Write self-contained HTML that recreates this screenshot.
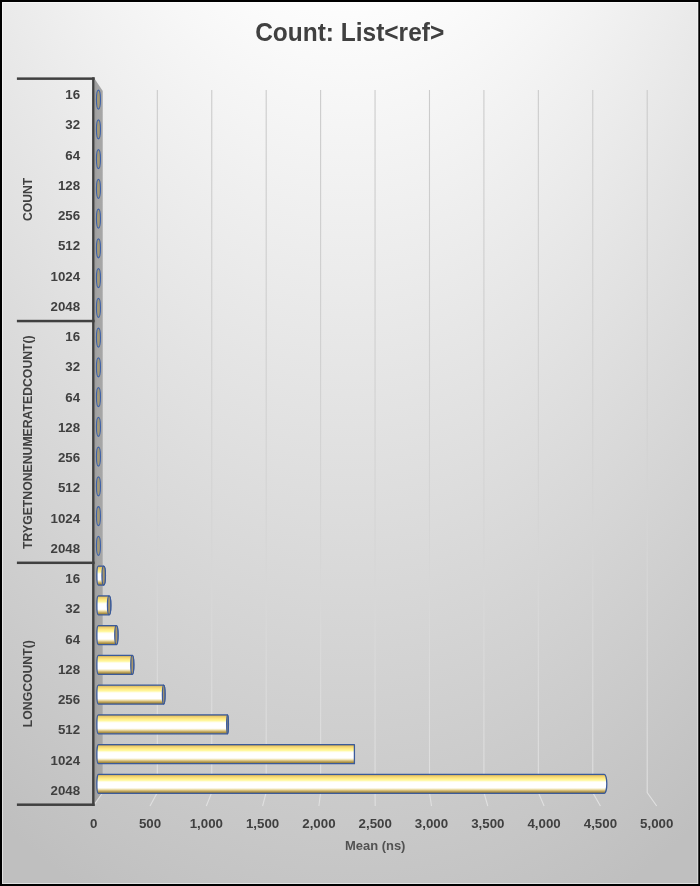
<!DOCTYPE html>
<html><head><meta charset="utf-8"><title>Count: List&lt;ref&gt;</title>
<style>
html,body{margin:0;padding:0;background:#c8c8c8;}
body{width:700px;height:886px;overflow:hidden;}
svg{display:block;}
text{font-family:"Liberation Sans",sans-serif;font-weight:bold;}
</style></head><body>
<svg width="700" height="886" viewBox="0 0 700 886">
<defs>
<radialGradient id="bg" gradientUnits="userSpaceOnUse" cx="0" cy="0" r="1" gradientTransform="translate(350 -683) scale(820 1664)">
<stop offset="0" stop-color="#ffffff"/><stop offset="0.39" stop-color="#ffffff"/><stop offset="1" stop-color="#bfbfbf"/></radialGradient>
<linearGradient id="cyl" x1="0" y1="0" x2="0" y2="1">
<stop offset="0" stop-color="#b08e48"/>
<stop offset="0.08" stop-color="#ebcc6c"/>
<stop offset="0.20" stop-color="#ffe782"/>
<stop offset="0.31" stop-color="#fff8a0"/>
<stop offset="0.38" stop-color="#fffde8"/>
<stop offset="0.43" stop-color="#ffffff"/>
<stop offset="0.71" stop-color="#ffffff"/>
<stop offset="0.78" stop-color="#f2e8c0"/>
<stop offset="0.86" stop-color="#d2b870"/>
<stop offset="0.94" stop-color="#a48c44"/>
<stop offset="1" stop-color="#8c7434"/>
</linearGradient>
<linearGradient id="grid" gradientUnits="userSpaceOnUse" x1="0" y1="90" x2="0" y2="806">
<stop offset="0" stop-color="#cbcbcb"/><stop offset="0.33" stop-color="#cfcfcf"/><stop offset="0.66" stop-color="#d6d6d6"/><stop offset="1" stop-color="#e0e0e0"/>
</linearGradient>
<linearGradient id="wall" x1="0" y1="0" x2="1" y2="0">
<stop offset="0" stop-color="#9c9c9c"/><stop offset="0.35" stop-color="#a4a4a4"/><stop offset="0.9" stop-color="#a6a6a6"/><stop offset="1" stop-color="#b0b0b0"/>
</linearGradient>
</defs>
<rect x="0" y="0" width="700" height="886" fill="url(#bg)"/>
<path d="M157.33 90V792.5L150 806M211.76 90V792.5L206.3 806M266.19 90V792.5L262.6 806M320.62 90V792.5L318.9 806M375.05 90V792.5L375.2 806M429.48 90V792.5L431.5 806M483.91 90V792.5L487.8 806M538.34 90V792.5L544.1 806M592.77 90V792.5L600.4 806M647.2 90V792.5L656.7 806" fill="none" stroke="url(#grid)" stroke-width="1.1"/>
<polygon points="94.6,78.8 102.8,91 102.8,792.5 94.6,803.6" fill="url(#wall)"/>
<path d="M102.9 792.3L94.8 803.9" fill="none" stroke="#dedede" stroke-width="1.1"/>
<rect x="92.1" y="77.3" width="2.5" height="728.7" fill="#404040"/>
<rect x="16.9" y="77.4" width="77.7" height="2.5" fill="#404040"/>
<rect x="16.9" y="319.8" width="77.7" height="2.5" fill="#404040"/>
<rect x="16.9" y="561.55" width="77.7" height="2.5" fill="#404040"/>
<rect x="16.9" y="803.45" width="77.7" height="2.5" fill="#404040"/>
<ellipse cx="98.45" cy="99.6" rx="2.0" ry="9.5" fill="#a39876" stroke="#3a5fa8" stroke-width="1.1"/>
<ellipse cx="98.45" cy="129.35" rx="2.0" ry="9.5" fill="#a39876" stroke="#3a5fa8" stroke-width="1.1"/>
<ellipse cx="98.45" cy="159.1" rx="2.0" ry="9.5" fill="#a39876" stroke="#3a5fa8" stroke-width="1.1"/>
<ellipse cx="98.45" cy="188.85" rx="2.0" ry="9.5" fill="#a39876" stroke="#3a5fa8" stroke-width="1.1"/>
<ellipse cx="98.45" cy="218.6" rx="2.0" ry="9.5" fill="#a39876" stroke="#3a5fa8" stroke-width="1.1"/>
<ellipse cx="98.45" cy="248.35" rx="2.0" ry="9.5" fill="#a39876" stroke="#3a5fa8" stroke-width="1.1"/>
<ellipse cx="98.45" cy="278.1" rx="2.0" ry="9.5" fill="#a39876" stroke="#3a5fa8" stroke-width="1.1"/>
<ellipse cx="98.45" cy="307.85" rx="2.0" ry="9.5" fill="#a39876" stroke="#3a5fa8" stroke-width="1.1"/>
<ellipse cx="98.45" cy="337.6" rx="2.0" ry="9.5" fill="#a39876" stroke="#3a5fa8" stroke-width="1.1"/>
<ellipse cx="98.45" cy="367.35" rx="2.0" ry="9.5" fill="#a39876" stroke="#3a5fa8" stroke-width="1.1"/>
<ellipse cx="98.45" cy="397.1" rx="2.0" ry="9.5" fill="#a39876" stroke="#3a5fa8" stroke-width="1.1"/>
<ellipse cx="98.45" cy="426.85" rx="2.0" ry="9.5" fill="#a39876" stroke="#3a5fa8" stroke-width="1.1"/>
<ellipse cx="98.45" cy="456.6" rx="2.0" ry="9.5" fill="#a39876" stroke="#3a5fa8" stroke-width="1.1"/>
<ellipse cx="98.45" cy="486.35" rx="2.0" ry="9.5" fill="#a39876" stroke="#3a5fa8" stroke-width="1.1"/>
<ellipse cx="98.45" cy="516.1" rx="2.0" ry="9.5" fill="#a39876" stroke="#3a5fa8" stroke-width="1.1"/>
<ellipse cx="98.45" cy="545.85" rx="2.0" ry="9.5" fill="#a39876" stroke="#3a5fa8" stroke-width="1.1"/>
<path d="M98.35 566.15H103.69A1.71 9.45 0 0 1 103.69 585.05H98.35A1.5 9.45 0 0 1 98.35 566.15Z" fill="url(#cyl)" stroke="#3a5a9a" stroke-width="1.3"/>
<ellipse cx="103.69" cy="575.6" rx="1.71" ry="9.45" fill="#a8966a" stroke="#3a5a9a" stroke-width="1.3"/>
<path d="M98.35 595.9H109.13A1.67 9.45 0 0 1 109.13 614.8H98.35A1.5 9.45 0 0 1 98.35 595.9Z" fill="url(#cyl)" stroke="#3a5a9a" stroke-width="1.3"/>
<ellipse cx="109.13" cy="605.35" rx="1.67" ry="9.45" fill="#a8966a" stroke="#3a5a9a" stroke-width="1.3"/>
<path d="M98.35 625.65H116.38A1.62 9.45 0 0 1 116.38 644.55H98.35A1.5 9.45 0 0 1 98.35 625.65Z" fill="url(#cyl)" stroke="#3a5a9a" stroke-width="1.3"/>
<ellipse cx="116.38" cy="635.1" rx="1.62" ry="9.45" fill="#a8966a" stroke="#3a5a9a" stroke-width="1.3"/>
<path d="M98.35 655.4H132.29A1.51 9.45 0 0 1 132.29 674.3H98.35A1.5 9.45 0 0 1 98.35 655.4Z" fill="url(#cyl)" stroke="#3a5a9a" stroke-width="1.3"/>
<ellipse cx="132.29" cy="664.85" rx="1.51" ry="9.45" fill="#a8966a" stroke="#3a5a9a" stroke-width="1.3"/>
<path d="M98.35 685.15H163.7A1.3 9.45 0 0 1 163.7 704.05H98.35A1.5 9.45 0 0 1 98.35 685.15Z" fill="url(#cyl)" stroke="#3a5a9a" stroke-width="1.3"/>
<ellipse cx="163.7" cy="694.6" rx="1.3" ry="9.45" fill="#a8966a" stroke="#3a5a9a" stroke-width="1.3"/>
<path d="M98.35 714.9H227.54A0.86 9.45 0 0 1 227.54 733.8H98.35A1.5 9.45 0 0 1 98.35 714.9Z" fill="url(#cyl)" stroke="#3a5a9a" stroke-width="1.3"/>
<ellipse cx="227.54" cy="724.35" rx="0.86" ry="9.45" fill="#a8966a" stroke="#3a5a9a" stroke-width="1.3"/>
<path d="M98.35 744.65H354.4A0.01 9.45 0 0 1 354.4 763.55H98.35A1.5 9.45 0 0 1 98.35 744.65Z" fill="url(#cyl)" stroke="#3a5a9a" stroke-width="1.3"/>
<path d="M98.35 774.4H604.3A2.5 9.45 0 0 1 604.3 793.3H98.35A1.5 9.45 0 0 1 98.35 774.4Z" fill="url(#cyl)" stroke="#3a5a9a" stroke-width="1.3"/>
<g opacity="0.999">
<text x="349.7" y="40.5" text-anchor="middle" font-size="25.2" fill="#404040" textLength="189" lengthAdjust="spacingAndGlyphs">Count: List&lt;ref&gt;</text>
<text x="80.1" y="99" text-anchor="end" font-size="13.3" fill="#404040">16</text>
<text x="80.1" y="129.25" text-anchor="end" font-size="13.3" fill="#404040">32</text>
<text x="80.1" y="159.5" text-anchor="end" font-size="13.3" fill="#404040">64</text>
<text x="80.1" y="189.75" text-anchor="end" font-size="13.3" fill="#404040">128</text>
<text x="80.1" y="220" text-anchor="end" font-size="13.3" fill="#404040">256</text>
<text x="80.1" y="250.25" text-anchor="end" font-size="13.3" fill="#404040">512</text>
<text x="80.1" y="280.5" text-anchor="end" font-size="13.3" fill="#404040">1024</text>
<text x="80.1" y="310.75" text-anchor="end" font-size="13.3" fill="#404040">2048</text>
<text x="80.1" y="341" text-anchor="end" font-size="13.3" fill="#404040">16</text>
<text x="80.1" y="371.25" text-anchor="end" font-size="13.3" fill="#404040">32</text>
<text x="80.1" y="401.5" text-anchor="end" font-size="13.3" fill="#404040">64</text>
<text x="80.1" y="431.75" text-anchor="end" font-size="13.3" fill="#404040">128</text>
<text x="80.1" y="462" text-anchor="end" font-size="13.3" fill="#404040">256</text>
<text x="80.1" y="492.25" text-anchor="end" font-size="13.3" fill="#404040">512</text>
<text x="80.1" y="522.5" text-anchor="end" font-size="13.3" fill="#404040">1024</text>
<text x="80.1" y="552.75" text-anchor="end" font-size="13.3" fill="#404040">2048</text>
<text x="80.1" y="583" text-anchor="end" font-size="13.3" fill="#404040">16</text>
<text x="80.1" y="613.25" text-anchor="end" font-size="13.3" fill="#404040">32</text>
<text x="80.1" y="643.5" text-anchor="end" font-size="13.3" fill="#404040">64</text>
<text x="80.1" y="673.75" text-anchor="end" font-size="13.3" fill="#404040">128</text>
<text x="80.1" y="704" text-anchor="end" font-size="13.3" fill="#404040">256</text>
<text x="80.1" y="734.25" text-anchor="end" font-size="13.3" fill="#404040">512</text>
<text x="80.1" y="764.5" text-anchor="end" font-size="13.3" fill="#404040">1024</text>
<text x="80.1" y="794.75" text-anchor="end" font-size="13.3" fill="#404040">2048</text>
<text x="93.7" y="827.9" text-anchor="middle" font-size="13.3" fill="#404040">0</text>
<text x="150" y="827.9" text-anchor="middle" font-size="13.3" fill="#404040">500</text>
<text x="206.3" y="827.9" text-anchor="middle" font-size="13.3" fill="#404040">1,000</text>
<text x="262.6" y="827.9" text-anchor="middle" font-size="13.3" fill="#404040">1,500</text>
<text x="318.9" y="827.9" text-anchor="middle" font-size="13.3" fill="#404040">2,000</text>
<text x="375.2" y="827.9" text-anchor="middle" font-size="13.3" fill="#404040">2,500</text>
<text x="431.5" y="827.9" text-anchor="middle" font-size="13.3" fill="#404040">3,000</text>
<text x="487.8" y="827.9" text-anchor="middle" font-size="13.3" fill="#404040">3,500</text>
<text x="544.1" y="827.9" text-anchor="middle" font-size="13.3" fill="#404040">4,000</text>
<text x="600.4" y="827.9" text-anchor="middle" font-size="13.3" fill="#404040">4,500</text>
<text x="656.7" y="827.9" text-anchor="middle" font-size="13.3" fill="#404040">5,000</text>
<text x="375.2" y="850" text-anchor="middle" font-size="13" fill="#525252" textLength="60.5" lengthAdjust="spacingAndGlyphs">Mean (ns)</text>
<text transform="translate(32.3 199.4) rotate(-90)" x="0" y="0" text-anchor="middle" font-size="13.4" fill="#404040" textLength="43.3" lengthAdjust="spacingAndGlyphs">COUNT</text>
<text transform="translate(32.3 442.1) rotate(-90)" x="0" y="0" text-anchor="middle" font-size="13.4" fill="#404040" textLength="213.6" lengthAdjust="spacingAndGlyphs">TRYGETNONENUMERATEDCOUNT()</text>
<text transform="translate(32.3 683.7) rotate(-90)" x="0" y="0" text-anchor="middle" font-size="13.4" fill="#404040" textLength="87" lengthAdjust="spacingAndGlyphs">LONGCOUNT()</text>
</g>
<rect x="2.5" y="2.5" width="695.3" height="881" fill="none" stroke="#ffffff" stroke-opacity="0.5" stroke-width="1"/>
<path d="M0 0H700V886H0Z M2 2V884H698.3V2Z" fill="#000000" fill-rule="evenodd"/>
</svg></body></html>
